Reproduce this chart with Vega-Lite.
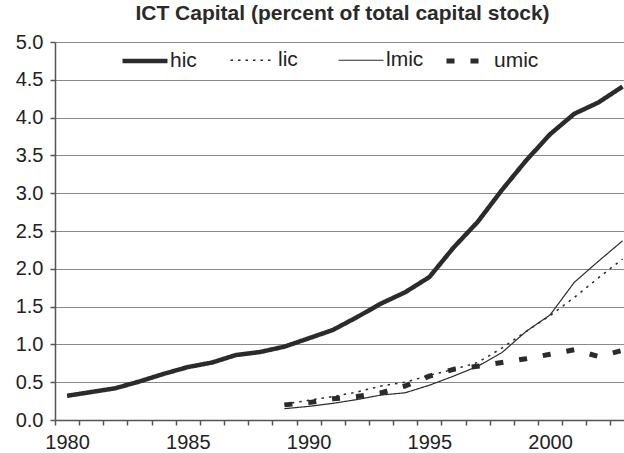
{
  "$schema": "https://vega.github.io/schema/vega-lite/v6.json",
  "autosize": {"type": "none"},
  "padding": {"left": 55, "top": 42, "right": 0, "bottom": 33},
  "width": 569,
  "height": 378,
  "background": "#ffffff",
  "title": {
    "text": "ICT Capital (percent of total capital stock)",
    "font": "Liberation Sans",
    "fontSize": 21,
    "fontWeight": "bold",
    "color": "#2a2a2a",
    "anchor": "middle",
    "baseline": "alphabetic",
    "offset": 11,
    "dy": 20,
    "dx": 3
  },
  "config": {
    "view": {"stroke": null},
    "axis": {
      "labelFont": "Liberation Sans",
      "labelFontSize": 20,
      "labelColor": "#222222",
      "domainColor": "#555555",
      "tickColor": "#555555",
      "domainWidth": 1.5,
      "tickSize": 5,
      "tickWidth": 1.5
    },
    "legend": {
      "labelFont": "Liberation Sans",
      "labelFontSize": 21,
      "labelColor": "#222222"
    }
  },
  "data": {
    "values": [
      {"year": 1980, "series": "hic", "value": 0.32},
      {"year": 1981, "series": "hic", "value": 0.37},
      {"year": 1982, "series": "hic", "value": 0.42},
      {"year": 1983, "series": "hic", "value": 0.51},
      {"year": 1984, "series": "hic", "value": 0.61},
      {"year": 1985, "series": "hic", "value": 0.70},
      {"year": 1986, "series": "hic", "value": 0.76},
      {"year": 1987, "series": "hic", "value": 0.86},
      {"year": 1988, "series": "hic", "value": 0.90},
      {"year": 1989, "series": "hic", "value": 0.97},
      {"year": 1990, "series": "hic", "value": 1.08},
      {"year": 1991, "series": "hic", "value": 1.19},
      {"year": 1992, "series": "hic", "value": 1.36},
      {"year": 1993, "series": "hic", "value": 1.54},
      {"year": 1994, "series": "hic", "value": 1.69},
      {"year": 1995, "series": "hic", "value": 1.89},
      {"year": 1996, "series": "hic", "value": 2.28},
      {"year": 1997, "series": "hic", "value": 2.62},
      {"year": 1998, "series": "hic", "value": 3.04},
      {"year": 1999, "series": "hic", "value": 3.43},
      {"year": 2000, "series": "hic", "value": 3.78},
      {"year": 2001, "series": "hic", "value": 4.05},
      {"year": 2002, "series": "hic", "value": 4.20},
      {"year": 2003, "series": "hic", "value": 4.41},
      {"year": 1989, "series": "lic", "value": 0.21},
      {"year": 1990, "series": "lic", "value": 0.26},
      {"year": 1991, "series": "lic", "value": 0.31},
      {"year": 1992, "series": "lic", "value": 0.37},
      {"year": 1993, "series": "lic", "value": 0.45},
      {"year": 1994, "series": "lic", "value": 0.50},
      {"year": 1995, "series": "lic", "value": 0.59},
      {"year": 1996, "series": "lic", "value": 0.67},
      {"year": 1997, "series": "lic", "value": 0.76},
      {"year": 1998, "series": "lic", "value": 0.95},
      {"year": 1999, "series": "lic", "value": 1.17},
      {"year": 2000, "series": "lic", "value": 1.38},
      {"year": 2001, "series": "lic", "value": 1.62},
      {"year": 2002, "series": "lic", "value": 1.88},
      {"year": 2003, "series": "lic", "value": 2.13},
      {"year": 1989, "series": "lmic", "value": 0.15},
      {"year": 1990, "series": "lmic", "value": 0.18},
      {"year": 1991, "series": "lmic", "value": 0.22},
      {"year": 1992, "series": "lmic", "value": 0.27},
      {"year": 1993, "series": "lmic", "value": 0.33},
      {"year": 1994, "series": "lmic", "value": 0.36},
      {"year": 1995, "series": "lmic", "value": 0.46},
      {"year": 1996, "series": "lmic", "value": 0.58},
      {"year": 1997, "series": "lmic", "value": 0.71},
      {"year": 1998, "series": "lmic", "value": 0.89},
      {"year": 1999, "series": "lmic", "value": 1.17},
      {"year": 2000, "series": "lmic", "value": 1.39},
      {"year": 2001, "series": "lmic", "value": 1.82},
      {"year": 2002, "series": "lmic", "value": 2.10},
      {"year": 2003, "series": "lmic", "value": 2.37},
      {"year": 1989, "series": "umic", "value": 0.20},
      {"year": 1990, "series": "umic", "value": 0.23},
      {"year": 1991, "series": "umic", "value": 0.28},
      {"year": 1992, "series": "umic", "value": 0.31},
      {"year": 1993, "series": "umic", "value": 0.36},
      {"year": 1994, "series": "umic", "value": 0.45},
      {"year": 1995, "series": "umic", "value": 0.58},
      {"year": 1996, "series": "umic", "value": 0.67},
      {"year": 1997, "series": "umic", "value": 0.71},
      {"year": 1998, "series": "umic", "value": 0.76},
      {"year": 1999, "series": "umic", "value": 0.81},
      {"year": 2000, "series": "umic", "value": 0.87},
      {"year": 2001, "series": "umic", "value": 0.93},
      {"year": 2002, "series": "umic", "value": 0.84},
      {"year": 2003, "series": "umic", "value": 0.92}
    ]
  },
  "mark": {"type": "line", "color": "#2b2b2b", "strokeCap": "butt", "strokeJoin": "round"},
  "encoding": {
    "x": {
      "field": "year",
      "type": "quantitative",
      "scale": {"domain": [1979.5, 2003.06], "nice": false, "zero": false},
      "axis": {
        "values": [1980, 1981, 1982, 1983, 1984, 1985, 1986, 1987, 1988, 1989, 1990, 1991, 1992, 1993, 1994, 1995, 1996, 1997, 1998, 1999, 2000, 2001, 2002, 2003],
        "format": "d",
        "labelExpr": "datum.value % 5 === 0 ? datum.label : ''",
        "tickOffset": -12.07,
        "labelOffset": 12.07,
        "labelPadding": 7,
        "labelOverlap": false,
        "labelFlush": false,
        "grid": false,
        "title": null
      }
    },
    "y": {
      "field": "value",
      "type": "quantitative",
      "scale": {"domain": [0, 5], "nice": false},
      "axis": {
        "values": [0, 0.5, 1, 1.5, 2, 2.5, 3, 3.5, 4, 4.5, 5],
        "format": ".1f",
        "labelPadding": 7,
        "grid": true,
        "gridColor": "#8a8a8a",
        "gridWidth": 1.2,
        "title": null
      }
    },
    "strokeDash": {
      "field": "series",
      "type": "nominal",
      "scale": {"domain": ["hic", "lic", "lmic", "umic"], "range": [[1, 0], [2.5, 5], [1, 0], [8, 16]]},
      "legend": {
        "title": null,
        "orient": "none",
        "legendX": 65,
        "legendY": -6,
        "direction": "horizontal",
        "columns": 4,
        "gridAlign": "all",
        "columnPadding": 5,
        "padding": 0,
        "symbolType": "stroke",
        "symbolSize": 2025,
        "labelOffset": 0,
        "encode": {
          "symbols": {
            "update": {
              "stroke": {"value": "#2b2b2b"},
              "strokeDash": {"signal": "datum.value === 'umic' ? [6, 10] : datum.value === 'lic' ? [5, 2.5] : [1, 0]"}
            }
          }
        }
      }
    },
    "strokeWidth": {
      "field": "series",
      "type": "nominal",
      "scale": {"type": "ordinal", "domain": ["hic", "lic", "lmic", "umic"], "range": [4.5, 1.5, 1.2, 5]},
      "legend": {
        "title": null,
        "orient": "none",
        "legendX": 65,
        "legendY": -6,
        "direction": "horizontal",
        "columns": 4,
        "gridAlign": "all",
        "columnPadding": 5,
        "padding": 0,
        "symbolType": "stroke",
        "symbolSize": 2025,
        "labelOffset": 0,
        "encode": {
          "symbols": {
            "update": {
              "stroke": {"value": "#2b2b2b"},
              "strokeDash": {"signal": "datum.value === 'umic' ? [6, 10] : datum.value === 'lic' ? [5, 2.5] : [1, 0]"}
            }
          }
        }
      }
    }
  }
}
